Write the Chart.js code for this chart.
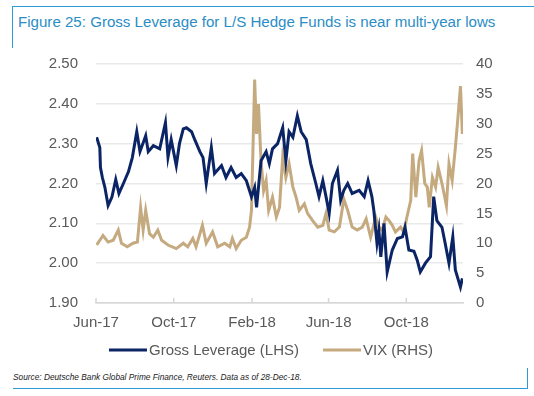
<!DOCTYPE html>
<html>
<head>
<meta charset="utf-8">
<script src="https://cdn.jsdelivr.net/npm/chart.js@4.4.1/dist/chart.umd.min.js"></script>
<style>
    html, body { margin: 0; padding: 0; background: #ffffff; }
    body { width: 534px; height: 396px; position: relative; overflow: hidden; font-family: "Liberation Sans", Arial, sans-serif; }
    .frame-top { position: absolute; left: 12px; top: 6px; width: 522px; height: 0; border-top: 1px solid #2e9bd2; }
    .frame-left { position: absolute; left: 12px; top: 6px; width: 0; height: 42px; border-left: 1px solid #2e9bd2; }
    .title { position: absolute; left: 18px; top: 13px; font-size: 15.1px; color: #2a8dc5; white-space: nowrap; }
    .source { position: absolute; left: 13px; top: 372px; font-size: 8.3px; font-style: italic; color: #222222; white-space: nowrap; }
    .frame-bottom { position: absolute; left: 13px; top: 388px; width: 514px; height: 0; border-top: 1px solid #2e9bd2; }
    .frame-right { position: absolute; left: 527px; top: 368px; width: 0; height: 21px; border-left: 1px solid #2e9bd2; }
    .chart-box { position: absolute; left: 0; top: 37px; width: 534px; height: 330px; }
</style>
</head>
<body>
<div class="frame-top"></div>
<div class="frame-left"></div>
<div class="title">Figure 25: Gross Leverage for L/S Hedge Funds is near multi-year lows</div>
<div class="chart-box"><canvas id="chart"></canvas></div>
<div class="source">Source: Deutsche Bank Global Prime Finance, Reuters. Data as of 28-Dec-18.</div>
<div class="frame-bottom"></div>
<div class="frame-right"></div>
<script>
// days since 1-Jun-2017
const tickDays = [0, 122, 245, 365, 487];
const tickLabels = ['Jun-17', 'Oct-17', 'Feb-18', 'Jun-18', 'Oct-18'];

const leverageDays = [1, 6, 7, 10, 14, 19, 25, 31, 36, 43, 51, 57, 64, 69, 78, 82, 90, 100, 109, 113,
    118, 126, 131, 137, 142, 150, 155, 163, 168, 173, 181, 186, 197, 204, 212, 220, 228, 236, 244, 249,
    252, 259, 267, 272, 277, 285, 293, 298, 303, 309, 316, 322, 330, 337, 345, 350, 356, 361, 366, 371,
    379, 384, 389, 395, 402, 413, 421, 427, 433, 436, 441, 444, 447, 452, 457, 465, 473, 481, 485, 491,
    499, 504, 509, 517, 525, 530, 535, 543, 548, 554, 560, 564, 572, 575];
const leverageValues = [2.316, 2.29, 2.24, 2.215, 2.19, 2.145, 2.166, 2.21, 2.175, 2.20, 2.23, 2.265, 2.33, 2.28, 2.32, 2.28, 2.295, 2.287, 2.353, 2.266,
    2.31, 2.245, 2.30, 2.337, 2.34, 2.33, 2.31, 2.28, 2.265, 2.20, 2.29, 2.225, 2.245, 2.215, 2.24, 2.215, 2.225, 2.207, 2.167, 2.19,
    2.14, 2.257, 2.28, 2.25, 2.287, 2.30, 2.34, 2.257, 2.33, 2.316, 2.37, 2.33, 2.31, 2.25, 2.20, 2.167, 2.207, 2.167, 2.125, 2.20,
    2.233, 2.158, 2.183, 2.20, 2.175, 2.183, 2.167, 2.207, 2.167, 2.133, 2.05, 2.083, 2.016, 2.10, 1.978, 2.033, 2.062, 2.066, 2.09, 2.033,
    2.03, 2.008, 1.978, 2.0, 2.016, 2.167, 2.107, 2.09, 2.05, 2.0, 2.066, 1.983, 1.94, 1.962];

const vixDays = [1, 11, 19, 27, 35, 40, 49, 58, 65, 70, 74, 78, 84, 90, 97, 103, 113, 126, 137, 144,
    152, 157, 167, 173, 183, 191, 202, 210, 214, 220, 228, 236, 241, 244, 249, 252, 255, 259, 263, 267,
    271, 277, 283, 288, 293, 298, 303, 309, 314, 319, 327, 332, 340, 348, 356, 361, 366, 374, 382, 389,
    395, 402, 410, 418, 424, 431, 439, 444, 449, 455, 460, 465, 470, 478, 483, 488, 494, 497, 502, 507,
    511, 516, 520, 523, 528, 533, 537, 543, 550, 554, 559, 564, 568, 572, 575];
const vixValues = [9.7, 11.3, 10.2, 10.5, 12.2, 10, 9.4, 10, 10.2, 16, 12.2, 15.5, 11.6, 11, 12.2, 10.5, 9.7, 9.1, 10, 9.4,
    10.8, 9.4, 13, 10, 11.9, 9.4, 10, 9.4, 10.8, 9.1, 10.5, 11, 12.7, 15.5, 37.4, 28.3, 33.3, 23.8, 18.8, 20.5,
    15.5, 17.7, 14.4, 16, 24.4, 21, 23.3, 19.4, 17.7, 15.5, 16.6, 15, 13.8, 12.7, 13, 15, 12.2, 11.9, 12.7, 17.4,
    15.5, 12.7, 12.2, 12.7, 14.1, 11, 14.4, 12.7, 12.2, 14.4, 13.8, 13, 11.9, 12.7, 11.9, 14.4, 17.2, 25, 17.7, 23.8,
    25.5, 20, 19.4, 16, 21, 19.4, 22.7, 20, 16.3, 23.3, 20.5, 26, 31, 36.3, 28.3];

const colors = {
    navy: '#0b2465',
    tan: '#c5aa80',
    text: '#595959',
    grid: '#e9e9e9',
    axis: '#d6d6d6'
};

const fontFamily = '"Liberation Sans", Arial, sans-serif';

const toPoints = function (days, values) {
    return days.map(function (d, i) {
        return { x: d, y: values[i] };
    });
};

// small tick marks standing up from the x axis
const upTicksPlugin = {
    id: 'upTicks',
    afterDraw: function (chart) {
        const ctx = chart.ctx;
        const xScale = chart.scales.x;
        const bottom = chart.chartArea.bottom;
        ctx.save();
        ctx.strokeStyle = colors.axis;
        ctx.lineWidth = 1.5;
        tickDays.forEach(function (d) {
            const px = xScale.getPixelForValue(d);
            ctx.beginPath();
            ctx.moveTo(px, bottom);
            ctx.lineTo(px, bottom - 5);
            ctx.stroke();
        });
        ctx.restore();
    }
};

// legend drawn by hand so its spacing can sit tight under the axis
const lineLegendPlugin = {
    id: 'lineLegend',
    afterDraw: function (chart) {
        const ctx = chart.ctx;
        const sampleWidth = 38;
        const textGap = 2;
        const itemGap = 24;
        const y = chart.chartArea.bottom + 47;

        ctx.save();
        ctx.font = '15px ' + fontFamily;
        ctx.textBaseline = 'middle';
        ctx.textAlign = 'left';

        const items = chart.data.datasets.map(function (ds) {
            return { label: ds.label, color: ds.borderColor, width: sampleWidth + textGap + ctx.measureText(ds.label).width };
        });
        const total = items.reduce(function (sum, it) { return sum + it.width; }, 0) + itemGap * (items.length - 1);
        let x = 271 - total / 2;

        items.forEach(function (it) {
            ctx.strokeStyle = it.color;
            ctx.lineWidth = 3;
            ctx.beginPath();
            ctx.moveTo(x, y);
            ctx.lineTo(x + sampleWidth, y);
            ctx.stroke();
            ctx.fillStyle = colors.text;
            ctx.fillText(it.label, x + sampleWidth + textGap, y + 1);
            x += it.width + itemGap;
        });
        ctx.restore();
    }
};

new Chart(document.getElementById('chart'), {
    type: 'line',
    data: {
        datasets: [{
            label: 'Gross Leverage (LHS)',
            data: toPoints(leverageDays, leverageValues),
            yAxisID: 'yLeft',
            borderColor: colors.navy,
            backgroundColor: colors.navy,
            borderWidth: 3,
            pointRadius: 0,
            tension: 0
        }, {
            label: 'VIX (RHS)',
            data: toPoints(vixDays, vixValues),
            yAxisID: 'yRight',
            borderColor: colors.tan,
            backgroundColor: colors.tan,
            borderWidth: 3,
            pointRadius: 0,
            tension: 0
        }]
    },
    options: {
        responsive: true,
        maintainAspectRatio: false,
        animation: false,
        layout: { padding: { top: 10, left: 0, right: 0, bottom: 35 } },
        plugins: {
            tooltip: { enabled: false },
            legend: { display: false }
        },
        scales: {
            x: {
                type: 'linear',
                min: 0,
                max: 576,
                afterBuildTicks: function (scale) {
                    scale.ticks = tickDays.map(function (d) { return { value: d }; });
                },
                afterFit: function (scale) { scale.height = 29; },
                grid: { display: false, drawTicks: false },
                border: { display: true, color: colors.axis, width: 1.5 },
                ticks: {
                    padding: 11,
                    maxRotation: 0,
                    autoSkip: false,
                    color: colors.text,
                    font: { family: fontFamily, size: 15 },
                    callback: function (value) {
                        const i = tickDays.indexOf(value);
                        return i >= 0 ? tickLabels[i] : '';
                    }
                }
            },
            yLeft: {
                type: 'linear',
                position: 'left',
                min: 1.9,
                max: 2.5,
                afterFit: function (scale) { scale.width = 96; },
                grid: { color: colors.grid, lineWidth: 1.5, drawTicks: false },
                border: { display: false },
                ticks: {
                    stepSize: 0.1,
                    padding: 18,
                    color: colors.text,
                    font: { family: fontFamily, size: 15 },
                    callback: function (value) { return value.toFixed(2); }
                }
            },
            yRight: {
                type: 'linear',
                position: 'right',
                min: 0,
                max: 40,
                afterFit: function (scale) { scale.width = 71; },
                grid: { display: false, drawTicks: false },
                border: { display: false },
                ticks: {
                    stepSize: 5,
                    padding: 13,
                    color: colors.text,
                    font: { family: fontFamily, size: 15 }
                }
            }
        }
    },
    plugins: [upTicksPlugin, lineLegendPlugin]
});
</script>
</body>
</html>
